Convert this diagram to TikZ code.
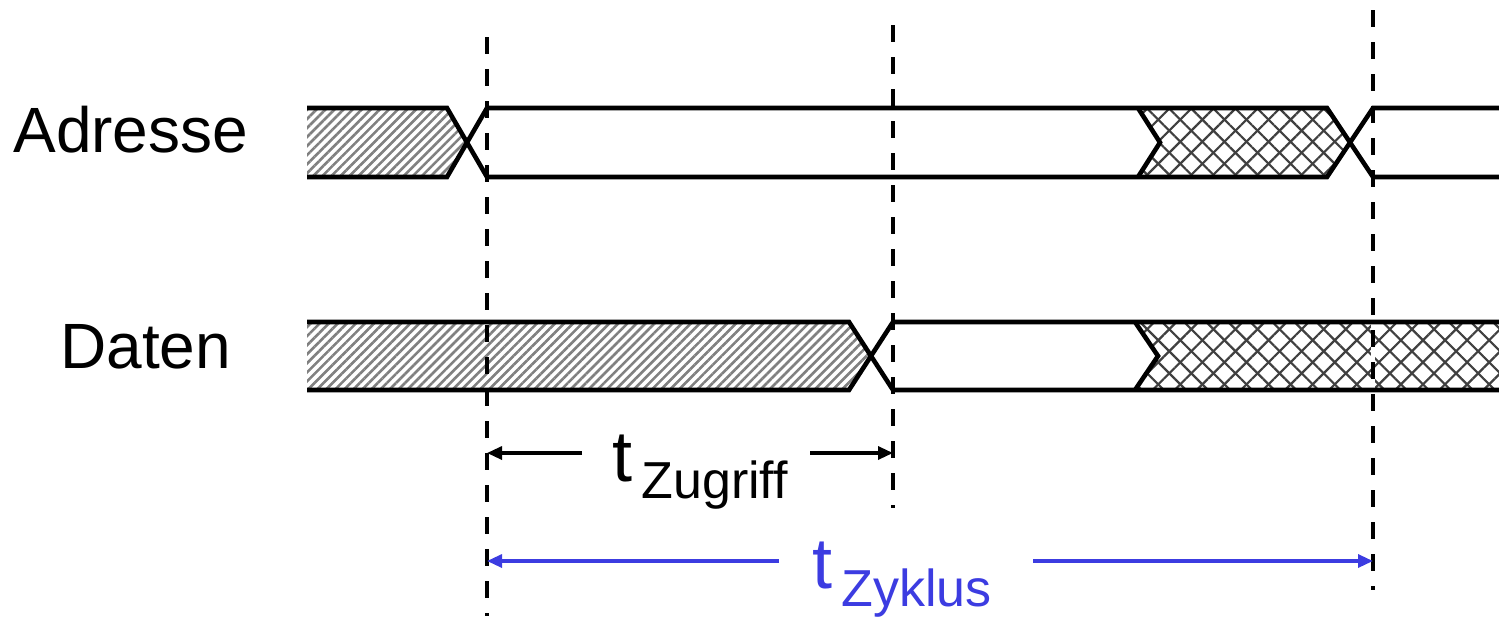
\documentclass[tikz,border=0pt]{standalone}
\usepackage{fontspec}
\setmainfont{Liberation Sans}
\usetikzlibrary{patterns.meta,arrows.meta}
\definecolor{zyk}{RGB}{60,60,225}
\tikzset{
  sig/.style={line width=2.3pt},
  hatchA/.style={pattern={Lines[angle=45,distance=3.2pt,line width=1.3pt]},pattern color=black!50},
  hatchB/.style={pattern={Lines[angle=45,distance=7.8pt,line width=1.1pt]},pattern color=black!75},
  hatchC/.style={pattern={Lines[angle=-45,distance=7.8pt,line width=1.1pt]},pattern color=black!75},
  vdash/.style={line width=2pt,dash pattern=on 8.5pt off 7.5pt},
  vunder/.style={line width=2pt,white},
  lbl/.style={inner sep=0pt,anchor=base west,font=\fontsize{32}{38}\selectfont},
  tbig/.style={inner sep=0pt,anchor=base west,font=\fontsize{36}{42}\selectfont},
  tsub/.style={inner sep=0pt,anchor=base west,font=\fontsize{26}{30}\selectfont},
  dim/.style={line width=1.6pt,-{Triangle[length=7.5pt,width=6.5pt]}},
}
\begin{document}
\begin{tikzpicture}[x=0.5pt,y=-0.5pt]
\useasboundingbox (0,0) rectangle (1499,616);
% patterns
\fill[hatchA] (307,108) -- (447,108) -- (467,142.5) -- (447,177) -- (307,177) -- cycle;
\fill[hatchB] (1138,108) -- (1327,108) -- (1350,142.5) -- (1327,177) -- (1138,177) -- (1160,142.5) -- cycle;
\fill[hatchC] (1138,108) -- (1327,108) -- (1350,142.5) -- (1327,177) -- (1138,177) -- (1160,142.5) -- cycle;
\fill[hatchA] (307,322) -- (849,322) -- (871,356) -- (849,390) -- (307,390) -- cycle;
\fill[hatchB] (1135,322) -- (1499,322) -- (1499,390) -- (1135,390) -- (1158,356) -- cycle;
\fill[hatchC] (1135,322) -- (1499,322) -- (1499,390) -- (1135,390) -- (1158,356) -- cycle;
% dashed time markers
\coordinate (d1t) at (487,37);  \coordinate (d1b) at (487,616);
\coordinate (d2t) at (893,25);  \coordinate (d2b) at (893,508);
\coordinate (d3t) at (1373,10); \coordinate (d3b) at (1373,590);
\draw[vunder] (1373,322) -- (1373,390);
\draw[vdash] (d1t) -- (d1b);
\draw[vdash] (d2t) -- (d2b);
\draw[vdash] (d3t) -- (d3b);
% Adresse signal
\draw[sig] (307,108) -- (447,108) -- (487,177) -- (1327,177) -- (1373,108) -- (1499,108);
\draw[sig] (307,177) -- (447,177) -- (487,108) -- (1327,108) -- (1373,177) -- (1499,177);
\draw[sig] (1138,108) -- (1160,142.5) -- (1138,177);
% Daten signal
\draw[sig] (307,322) -- (849,322) -- (893,390) -- (1499,390);
\draw[sig] (307,390) -- (849,390) -- (893,322) -- (1499,322);
\draw[sig] (1135,322) -- (1158,356) -- (1135,390);
% labels
\node[lbl] (adr) at (13,152) {Adresse};
\node[lbl] (dat) at (60,368) {Daten};
% t_Zugriff
\node[tbig] (tz) at (612,481) {t};
\node[tsub] (tzs) at (641,498) {Zugriff};
\coordinate (za1) at (582,453); \coordinate (za2) at (810,453);
\draw[dim] (za1) -- (d1t |- za1);
\draw[dim] (za2) -- (d2t |- za2);
% t_Zyklus
\node[tbig,text=zyk] (ty) at (812,588) {t};
\node[tsub,text=zyk] (tys) at (841,606) {Zyklus};
\coordinate (ya1) at (779,561); \coordinate (ya2) at (1033,561);
\draw[dim,zyk] (ya1) -- (d1t |- ya1);
\draw[dim,zyk] (ya2) -- (d3t |- ya2);
\end{tikzpicture}
\end{document}
